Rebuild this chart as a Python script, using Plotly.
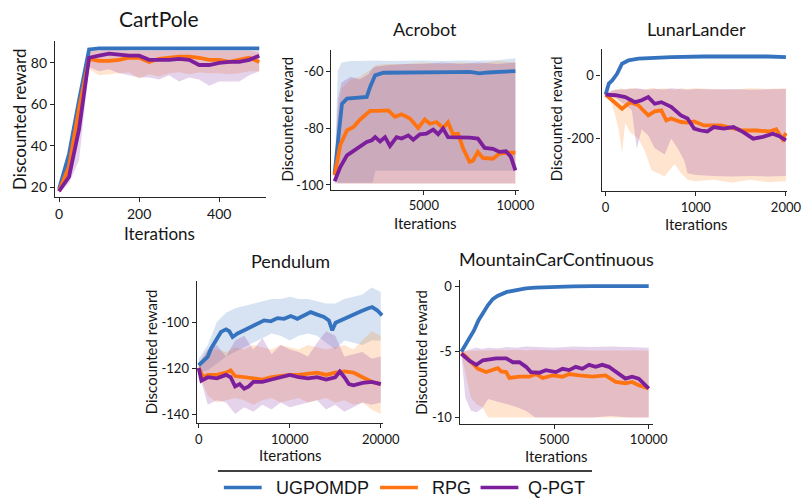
import plotly.graph_objects as go

W, H = 804, 503
# the photographed page comes out squeezed (about 789 x 498 of the 804 x 503 canvas),
# so panel positions are laid out against that effective size
EFF_W, EFF_H = 789.0, 498.0

# ---------------- data ----------------
SERIES = ["UGPOMDP", "RPG", "Q-PGT"]

# CartPole
CP_X = [0, 25, 50, 75, 100, 125, 150, 175, 200, 225, 250, 275, 300, 325, 350, 375, 400, 425, 450, 475, 500]
CP_BLUE = [19, 36, 62, 86.5, 87, 87, 87, 87, 87, 87, 87, 87, 87, 87, 87, 87, 87, 87, 87, 87, 87]
CP_BLUE_LO = [18.5, 35, 60, 86, 86.5, 86.5, 86.5, 86.5, 86.5, 86.5, 86.5, 86.5, 86.5, 86.5, 86.5, 86.5, 86.5, 86.5, 86.5, 86.5, 86.5]
CP_BLUE_HI = [19.5, 37, 64, 87, 87.5, 87.5, 87.5, 87.5, 87.5, 87.5, 87.5, 87.5, 87.5, 87.5, 87.5, 87.5, 87.5, 87.5, 87.5, 87.5, 87.5]
CP_ORANGE = [18, 30, 58, 82, 81, 81, 81.5, 82.5, 82.5, 80.5, 82, 82.5, 83, 83, 82.5, 81.5, 81.5, 80.5, 81.5, 82.5, 80.5]
CP_ORANGE_LO = [17, 27, 50, 77, 74, 74.5, 75, 75.5, 72.5, 74.5, 73.5, 75, 75.5, 74.5, 75.5, 75, 75, 74.5, 75, 76, 76]
CP_ORANGE_HI = [19, 33, 63, 86, 86, 86, 86, 86, 86, 86, 86, 86, 86, 86, 86, 86, 86, 86, 86, 86, 85]
CP_PURPLE = [18, 25, 48, 82.5, 83.5, 84.5, 84, 83.5, 83.5, 81.5, 81.5, 81.5, 82, 81.5, 79, 79, 80, 80.5, 80.5, 81.5, 83.5]
CP_PURPLE_LO = [17, 22, 33, 78, 76, 77, 75, 74, 73, 73, 72, 74, 71, 73, 72, 69, 71, 71, 71, 74, 76]
CP_PURPLE_HI = [19, 28, 58, 86, 86, 87, 87, 86, 86, 86, 86, 86, 86, 86, 86, 86, 86, 86, 86, 86, 86]

# Acrobot
AC_BLUE_X = [127, 344, 525, 800, 1300, 1880, 2065, 2340, 2790, 3500, 4500, 5500, 6500, 7500, 8040, 8500, 9000, 9500, 10000]
AC_BLUE = [-96, -82.6, -71.5, -69.7, -69.4, -69.1, -65.6, -61.5, -60.6, -60.5, -60.4, -60.3, -60.4, -60.3, -60.8, -60.5, -60.4, -60.2, -60.0]
AC_ORANGE_X = [127, 435, 800, 1160, 1520, 2065, 2430, 3060, 3420, 3790, 4240, 4690, 5050, 5330, 5690, 6050, 6320, 6590, 6870, 7140, 7500, 7680, 7950, 8220, 8770, 9130, 9490, 10000]
AC_ORANGE = [-96.6, -86, -80.8, -79.6, -77, -74, -74, -73.8, -76.1, -75.2, -76.7, -80, -77, -78.5, -77.9, -80, -78, -82.2, -82, -87.1, -91.9, -91.5, -88.4, -90.5, -90.8, -89, -88.7, -88.7]
AC_PURPLE_X = [127, 435, 800, 1340, 1880, 2160, 2340, 2610, 2880, 3150, 3510, 3790, 4150, 4420, 4780, 5140, 5510, 5780, 6050, 6320, 6960, 7500, 7950, 8320, 8770, 9130, 9490, 9760, 10000]
AC_PURPLE = [-98.7, -93.7, -89.6, -87.3, -84.9, -84.3, -83.2, -84.7, -83.2, -86.3, -83.2, -83.7, -82.6, -84.1, -82.2, -82, -80.6, -82.2, -80.2, -83.2, -83.2, -83.4, -83.7, -87, -87.3, -88.4, -88.2, -90.2, -94.9]
AC_BAND_X = [127, 300, 500, 1000, 1500, 2000, 2200, 2350, 3000, 4000, 5000, 6000, 7000, 8000, 9000, 10000]
AC_BLUE_HI = [-95, -60, -57, -56.5, -56.5, -56.4, -56.3, -56.3, -56.5, -56.4, -56.3, -56.5, -56.3, -56.4, -56.2, -55.5]
AC_BLUE_LO = [-97, -99.2, -99.2, -99.2, -99.2, -99.2, -99.2, -95, -95, -95, -95, -95, -95, -95, -95, -95]
AC_ORANGE_HI = [-95, -75, -66, -63, -62, -60, -59, -58, -57.5, -57.5, -57, -57.5, -57, -57.5, -56.5, -57]
AC_ORANGE_LO = [-97, -99.5, -99.5, -99.5, -99.5, -99.5, -99.5, -99.5, -99.5, -99.5, -99.5, -99.5, -99.5, -99.5, -99.5, -99.5]
AC_PURPLE_HI = [-97, -70, -64, -62, -63, -61, -59, -58.5, -58, -57.5, -57.5, -57, -57.5, -57, -57.5, -57]
AC_PURPLE_LO = [-99.5, -99.5, -99.5, -99.5, -99.5, -99.5, -99.5, -99.5, -99.5, -99.5, -99.5, -99.5, -99.5, -99.5, -99.5, -99.5]

# LunarLander
LL_BLUE_X = [0, 36, 73, 127, 182, 255, 364, 545, 727, 1090, 1455, 1800, 2000]
LL_BLUE = [-60, -25, -15, 6, 38, 49, 54, 58, 59, 61, 62, 61, 59]
LL_BLUE_LO = [-62, -30, -20, 0, 32, 44, 50, 54, 55, 57, 58, 57, 55]
LL_BLUE_HI = [-58, -20, -10, 12, 44, 54, 58, 62, 63, 65, 66, 65, 63]
LL_ORANGE_X = [0, 55, 109, 182, 273, 364, 400, 473, 545, 618, 673, 727, 836, 909, 982, 1091, 1273, 1382, 1527, 1673, 1818, 1891, 1964, 2000]
LL_ORANGE = [-60, -73, -89, -105, -84, -94, -105, -126, -113, -110, -142, -136, -147, -149, -145, -158, -158, -166, -174, -174, -177, -170, -202, -182]
LL_PURPLE_X = [0, 109, 218, 327, 400, 473, 545, 618, 727, 836, 909, 982, 1055, 1127, 1200, 1309, 1418, 1527, 1636, 1745, 1855, 1927, 2000]
LL_PURPLE = [-60, -62, -68, -84, -78, -68, -89, -84, -99, -126, -136, -168, -174, -177, -163, -168, -163, -179, -200, -194, -184, -192, -205]
LL_OB_X = [0, 55, 100, 145, 182, 218, 273, 364, 436, 509, 580, 655, 764, 836, 909, 1000, 1200, 1400, 1600, 1800, 2000]
LL_ORANGE_HI = [-58, -50, -45, -42, -40, -45, -38, -42, -45, -38, -42, -40, -45, -40, -42, -40, -43, -45, -40, -42, -40]
LL_ORANGE_LO = [-62, -80, -120, -170, -245, -150, -180, -200, -240, -300, -310, -320, -280, -310, -330, -335, -330, -340, -330, -338, -335]
LL_PB_X = [0, 55, 109, 200, 291, 345, 400, 473, 545, 655, 727, 800, 873, 909, 1000, 1200, 1400, 1600, 1800, 2000]
LL_PURPLE_HI = [-58, -48, -45, -44, -42, -40, -43, -45, -42, -44, -40, -42, -44, -45, -42, -44, -42, -45, -43, -42]
LL_PURPLE_LO = [-62, -65, -70, -90, -110, -232, -170, -190, -230, -250, -200, -230, -270, -310, -315, -318, -320, -318, -320, -318]

# Pendulum
PD_BLUE_X = [0, 440, 985, 1350, 1900, 2450, 3000, 3360, 3720, 4270, 5000, 5730, 6460, 7190, 7920, 8650, 9380, 10110, 10840, 11570, 12300, 13030, 13760, 14300, 14670, 15040, 15580, 16310, 17040, 17770, 18500, 19050, 19600, 20150]
PD_BLUE = [-118.8, -117.4, -115.2, -111.6, -108, -104.3, -103.2, -104, -106.5, -105, -103.6, -102.2, -100.7, -99.3, -99.7, -98.3, -98.6, -97.4, -98.6, -97.1, -95.7, -96.8, -97.8, -99.3, -103.6, -100.3, -99.3, -97.8, -96.4, -95.4, -94.2, -93.5, -94.9, -97.1]
PD_ORANGE_X = [0, 500, 1000, 2000, 3000, 3500, 4000, 5000, 6000, 7000, 8000, 9000, 10000, 11000, 12000, 13000, 14000, 15000, 16000, 17000, 18000, 19000, 20000]
PD_ORANGE = [-120, -124, -123, -123, -122, -121, -123.5, -124, -124.5, -125, -124, -123.5, -123, -123, -122.5, -122, -123, -122, -121.5, -122, -124, -126, -127]
PD_PURPLE_X = [0, 300, 1000, 2000, 3000, 3500, 4000, 4500, 5000, 5500, 6000, 7000, 8000, 9000, 10000, 11000, 12000, 13000, 14000, 15000, 15500, 16000, 16500, 17000, 18000, 19000, 20000]
PD_PURPLE = [-120, -125.5, -124, -124.5, -123, -124, -128, -127, -129, -128, -126, -126, -125, -124, -123, -124, -124.5, -124, -125, -124, -121.5, -124, -127, -127.5, -126.5, -126, -127]
PD_BAND_X = [0, 1000, 2000, 3000, 4000, 5000, 6000, 7000, 8000, 9000, 10000, 11000, 12000, 13000, 14000, 15000, 16000, 17000, 18000, 19000, 20000]
PD_BLUE_HI = [-116, -110, -100, -96, -94, -93, -92, -91, -90, -90, -89, -90, -90, -91, -92, -92, -90, -89, -88, -85, -87]
PD_BLUE_LO = [-122, -121, -118, -115, -113, -111, -109, -107, -105, -106, -108, -106, -105, -106, -109, -112, -108, -109, -110, -108, -108]
PD_ORANGE_HI = [-118, -112, -112, -113, -111, -112, -110, -111, -112, -110, -111, -112, -110, -111, -112, -111, -110, -112, -108, -104, -106]
PD_ORANGE_LO = [-122, -132, -135, -134, -133, -134, -136, -134, -133, -135, -134, -133, -135, -134, -133, -135, -134, -136, -135, -138, -140]
PD_PURPLE_HI = [-118, -112, -110, -115, -108, -106, -112, -107, -114, -110, -112, -113, -115, -109, -104, -106, -115, -114, -113, -116, -115]
PD_PURPLE_LO = [-122, -136, -134, -135, -140, -137, -139, -136, -138, -135, -137, -136, -135, -134, -138, -136, -139, -137, -135, -136, -135]

# MountainCarContinuous
MC_BLUE_X = [90, 250, 500, 750, 1000, 1250, 1500, 1750, 2000, 2500, 3000, 3500, 4000, 5000, 6000, 7000, 8000, 9000, 10000]
MC_BLUE = [-5, -4.6, -4.0, -3.4, -2.6, -2.0, -1.45, -1.0, -0.75, -0.45, -0.28, -0.18, -0.12, -0.05, -0.02, -0.01, 0, 0, 0]
MC_ORANGE_X = [90, 350, 615, 965, 1400, 1750, 2020, 2190, 2460, 2630, 3160, 3680, 4040, 4390, 4910, 5440, 5790, 6320, 7020, 7720, 8250, 8770, 9120, 9470, 10000]
MC_ORANGE = [-5.1, -5.4, -5.8, -6.3, -6.55, -6.4, -6.25, -6.5, -6.55, -7.0, -6.9, -6.9, -6.7, -7.0, -6.8, -6.9, -6.7, -6.8, -6.9, -6.8, -7.3, -7.4, -7.3, -7.55, -7.8]
MC_PURPLE_X = [90, 530, 880, 1230, 1930, 2460, 2810, 3160, 3510, 3770, 4210, 4560, 5090, 5440, 5790, 6140, 6490, 6840, 7190, 7540, 7890, 8420, 8770, 9120, 9470, 9820, 10000]
MC_PURPLE = [-5.15, -5.7, -6.0, -5.65, -5.5, -5.5, -5.8, -5.8, -6.15, -6.55, -6.6, -6.4, -6.55, -6.3, -6.4, -6.15, -6.3, -6.0, -6.15, -6.0, -6.15, -6.7, -7.05, -6.9, -7.05, -7.55, -7.8]
MC_BAND_X = [90, 300, 600, 900, 1200, 1500, 2000, 2500, 3000, 3500, 4000, 5000, 6000, 7000, 8000, 9000, 10000]
MC_ORANGE_HI = [-5.0, -4.95, -4.95, -4.9, -4.9, -4.9, -4.85, -4.9, -4.85, -4.9, -4.85, -4.9, -4.85, -4.9, -4.9, -4.85, -4.9]
MC_ORANGE_LO = [-5.2, -6.5, -8.5, -9.0, -9.2, -10, -10, -10, -10, -10, -10, -10, -10, -10, -10, -10, -10]
MC_PURPLE_HI = [-5.0, -4.9, -4.8, -4.7, -4.8, -4.7, -4.75, -4.65, -4.7, -4.6, -4.65, -4.7, -4.6, -4.65, -4.6, -4.65, -4.7]
MC_PURPLE_LO = [-5.2, -8.5, -9.5, -9.6, -9.3, -8.6, -8.8, -9.0, -9.2, -9.5, -10, -10, -10, -10, -9.9, -10, -10]

# tick values / labels
CP_XT = [0, 200, 400]; CP_YT = [20, 40, 60, 80]
AC_XT = [5000, 10000]; AC_YT = [-100, -80, -60]
LL_XT = [0, 1000, 2000]; LL_YT = [-200, 0]
PD_XT = [0, 10000, 20000]; PD_YT = [-140, -120, -100]
MC_XT = [5000, 10000]; MC_YT = [-10, -5, 0]

# ---------------- style ----------------
LINE = {"UGPOMDP": "#3673BF", "RPG": "#FF7410", "Q-PGT": "#7D1F9C"}
BAND = {"UGPOMDP": "rgba(54,115,191,0.2)", "RPG": "rgba(255,127,14,0.2)", "Q-PGT": "rgba(125,31,156,0.2)"}
FONT = "Lato"
TXT = "#161616"

PANELS = [
    dict(name="CartPole", px=(53.3, 265, 39, 195), xr=(-10, 516), yr=(15.2, 90.6),
         xt=CP_XT, yt=CP_YT, tick=14, title=21, lab=17,
         tpos=(158, 17), ylpos=(17, 117), xlpos=(158, 231)),
    dict(name="Acrobot", px=(331, 520, 47.7, 187.5), xr=(-54, 10217), yr=(-101.6, -52.5),
         xt=AC_XT, yt=AC_YT, tick=13, title=18, lab=15,
         tpos=(425, 27), ylpos=(286, 117), xlpos=(426, 221)),
    dict(name="LunarLander", px=(602.7, 789, 46.7, 189), xr=(-44, 2012), yr=(-366, 85.7),
         xt=LL_XT, yt=LL_YT, tick=13, title=18, lab=15,
         tpos=(698, 27), ylpos=(557, 117), xlpos=(698, 222)),
    dict(name="Pendulum", px=(195.7, 383.3, 279.3, 421), xr=(-219, 20284), yr=(-143.9, -82.3),
         xt=PD_XT, yt=PD_YT, tick=13, title=18, lab=15,
         tpos=(290, 259), ylpos=(150, 350), xlpos=(290, 453)),
    dict(name="MountainCarContinuous", px=(460, 654, 278, 421.7), xr=(0, 10210), yr=(-10.48, 0.46),
         xt=MC_XT, yt=MC_YT, tick=13, title=18, lab=15,
         tpos=(557, 257), ylpos=(421, 350), xlpos=(557, 454)),
]

LEG_SAMPLES = [(223, 261, 273), (380, 418, 430), (481, 519, 527)]
LEG_Y = 485.5

DATA = [
    dict(lines=[(CP_X, CP_BLUE), (CP_X, CP_ORANGE), (CP_X, CP_PURPLE)],
         bands=[(CP_X, CP_BLUE_LO, CP_BLUE_HI), (CP_X, CP_ORANGE_LO, CP_ORANGE_HI), (CP_X, CP_PURPLE_LO, CP_PURPLE_HI)]),
    dict(lines=[(AC_BLUE_X, AC_BLUE), (AC_ORANGE_X, AC_ORANGE), (AC_PURPLE_X, AC_PURPLE)],
         bands=[(AC_BAND_X, AC_BLUE_LO, AC_BLUE_HI), (AC_BAND_X, AC_ORANGE_LO, AC_ORANGE_HI), (AC_BAND_X, AC_PURPLE_LO, AC_PURPLE_HI)]),
    dict(lines=[(LL_BLUE_X, LL_BLUE), (LL_ORANGE_X, LL_ORANGE), (LL_PURPLE_X, LL_PURPLE)],
         bands=[(LL_BLUE_X, LL_BLUE_LO, LL_BLUE_HI), (LL_OB_X, LL_ORANGE_LO, LL_ORANGE_HI), (LL_PB_X, LL_PURPLE_LO, LL_PURPLE_HI)]),
    dict(lines=[(PD_BLUE_X, PD_BLUE), (PD_ORANGE_X, PD_ORANGE), (PD_PURPLE_X, PD_PURPLE)],
         bands=[(PD_BAND_X, PD_BLUE_LO, PD_BLUE_HI), (PD_BAND_X, PD_ORANGE_LO, PD_ORANGE_HI), (PD_BAND_X, PD_PURPLE_LO, PD_PURPLE_HI)]),
    dict(lines=[(MC_BLUE_X, MC_BLUE), (MC_ORANGE_X, MC_ORANGE), (MC_PURPLE_X, MC_PURPLE)],
         bands=[None, (MC_BAND_X, MC_ORANGE_LO, MC_ORANGE_HI), (MC_BAND_X, MC_PURPLE_LO, MC_PURPLE_HI)]),
]

fig = go.Figure()
layout = dict(width=W, height=H, autosize=False, margin=dict(l=0, r=0, t=0, b=0, pad=0),
              paper_bgcolor="white", plot_bgcolor="white", showlegend=False)
annotations = []
shapes = []


def px2x(v):
    return min(v / EFF_W, 1.0)


def px2y(v):
    return max(1 - v / EFF_H, 0.0)


for i, (p, d) in enumerate(zip(PANELS, DATA)):
    k = "" if i == 0 else str(i + 1)
    xa, ya = "x" + k, "y" + k
    l, r, t, b = p["px"]
    common = dict(showgrid=False, zeroline=False, showline=True, linecolor="#262626", linewidth=1.3,
                  ticks="outside", ticklen=4, tickwidth=1.3, tickcolor="#262626",
                  tickfont=dict(family=FONT, size=p["tick"], color=TXT), fixedrange=True)
    layout["xaxis" + k] = dict(domain=[px2x(l), px2x(r)], range=list(p["xr"]), anchor=ya,
                               tickvals=p["xt"], ticktext=[str(v) for v in p["xt"]], **common)
    layout["yaxis" + k] = dict(domain=[px2y(b), px2y(t)], range=list(p["yr"]), anchor=xa,
                               tickvals=p["yt"], ticktext=[str(v) for v in p["yt"]], **common)
    for s, band in zip(SERIES, d["bands"]):
        if band is None:
            continue
        bx, lo, hi = band
        fig.add_trace(go.Scatter(x=list(bx) + list(bx)[::-1], y=list(hi) + list(lo)[::-1],
                                 fill="toself", fillcolor=BAND[s], line=dict(width=0),
                                 mode="lines", hoverinfo="skip", showlegend=False,
                                 xaxis=xa, yaxis=ya))
    for s, (lx, ly) in zip(SERIES, d["lines"]):
        fig.add_trace(go.Scatter(x=lx, y=ly, mode="lines", name=s,
                                 line=dict(color=LINE[s], width=3.8),
                                 showlegend=False, xaxis=xa, yaxis=ya))
    tx, ty = p["tpos"]
    annotations.append(dict(text=p["name"], x=px2x(tx), y=px2y(ty), xref="paper", yref="paper",
                            showarrow=False, xanchor="center", yanchor="middle",
                            font=dict(family=FONT, size=p["title"], color=TXT)))
    yx, yy = p["ylpos"]
    annotations.append(dict(text="Discounted reward", x=px2x(yx), y=px2y(yy), xref="paper", yref="paper",
                            showarrow=False, xanchor="center", yanchor="middle", textangle=-90,
                            font=dict(family=FONT, size=p["lab"], color=TXT)))
    xx, xy = p["xlpos"]
    annotations.append(dict(text="Iterations", x=px2x(xx), y=px2y(xy), xref="paper", yref="paper",
                            showarrow=False, xanchor="center", yanchor="middle",
                            font=dict(family=FONT, size=p["lab"], color=TXT)))

# legend: rule, sample lines and labels
shapes.append(dict(type="line", xref="paper", yref="paper",
                   x0=px2x(217), x1=px2x(593), y0=px2y(469), y1=px2y(469),
                   line=dict(color="black", width=1.6)))
for s, (x0, x1, xt) in zip(SERIES, LEG_SAMPLES):
    shapes.append(dict(type="line", xref="paper", yref="paper",
                       x0=px2x(x0), x1=px2x(x1), y0=px2y(LEG_Y), y1=px2y(LEG_Y),
                       line=dict(color=LINE[s], width=3.4)))
    annotations.append(dict(text=s, x=px2x(xt), y=px2y(LEG_Y), xref="paper", yref="paper",
                            showarrow=False, xanchor="left", yanchor="middle",
                            font=dict(family="Liberation Sans", size=18, color=TXT)))

layout["annotations"] = annotations
layout["shapes"] = shapes
fig.update_layout(**layout)

fig.write_html("out.html", config={"responsive": False, "displayModeBar": False},
               post_script="document.documentElement.style.overflow='hidden';document.body.style.margin='0';")
